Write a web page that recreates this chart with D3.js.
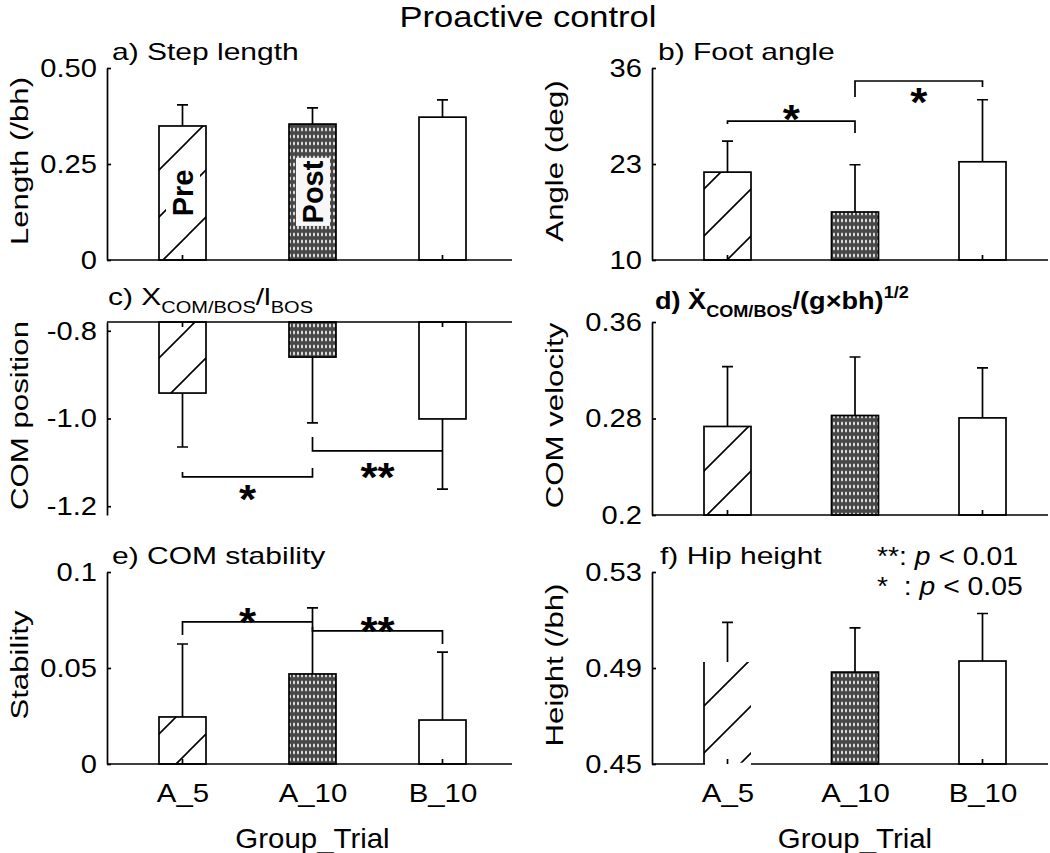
<!DOCTYPE html>
<html><head><meta charset="utf-8">
<script src="https://cdn.jsdelivr.net/npm/d3@7"></script>
<style>
body{margin:0;background:#fff}
text{font-family:"Liberation Sans",Arial,Helvetica,sans-serif;fill:#000;white-space:pre}
</style>
</head><body>
<svg id="c" width="1050" height="853"></svg>
<script>
// ---------------- data ----------------
const categories = ["A_5", "A_10", "B_10"];
const barLabels = ["Pre", "Post", ""];

const stepLength   = [0.349, 0.354, 0.372];
const stepLengthSD = [0.055, 0.042, 0.045];
const footAngle    = [21.9, 16.5, 23.3];
const footAngleSD  = [4.2, 6.4, 8.4];
const comPosition   = [-0.942, -0.860, -1.001];
const comPositionSD = [0.123, 0.150, 0.160];
const comVelocity   = [0.2734, 0.2825, 0.2805];
const comVelocitySD = [0.0496, 0.0485, 0.0415];
const comStability   = [0.0245, 0.0469, 0.0229];
const comStabilitySD = [0.0380, 0.0344, 0.0354];
const hipHeight   = [0.4925, 0.4883, 0.4929];
const hipHeightSD = [0.0165, 0.0184, 0.0198];

const ticksA = [0, 0.25, 0.5],   tickLabelsA = ["0", "0.25", "0.50"];
const ticksB = [10, 23, 36],     tickLabelsB = ["10", "23", "36"];
const ticksC = [-1.2, -1.0, -0.8], tickLabelsC = ["-1.2", "-1.0", "-0.8"];
const ticksD = [0.2, 0.28, 0.36], tickLabelsD = ["0.2", "0.28", "0.36"];
const ticksE = [0, 0.05, 0.1],   tickLabelsE = ["0", "0.05", "0.1"];
const ticksF = [0.45, 0.49, 0.53], tickLabelsF = ["0.45", "0.49", "0.53"];

// significance brackets: from/to category index, bracket level, leg ends, label level (data units)
const bracketsB = [
  {a: 0, b: 1, y: 28.8, ya: 28.4, yb: 27.2, label: "*", ly: 30.3},
  {a: 1, b: 2, y: 34.24, ya: 32.07, yb: 33.43, label: "*", ly: 32.55}
];
const bracketsC = [
  {a: 0, b: 1, y: -1.133, ya: -1.122, yb: -1.113, label: "*", ly: -1.163},
  {a: 1, b: 2, y: -1.074, ya: -1.042, yb: -1.074, label: "**", ly: -1.113}
];
const bracketsE = [
  {a: 0, b: 1, y: 0.0740, ya: 0.0672, yb: 0.0740, label: "*", ly: 0.0786},
  {a: 1, b: 2, y: 0.0693, ya: 0.0714, yb: 0.0625, label: "**", ly: 0.0740}
];

const mainTitle = "Proactive control";
const xAxisTitle = "Group_Trial";
const legendLines = [["**: ", "p", " < 0.01"], ["*  : ", "p", " < 0.05"]];

// ---------------- layout ----------------
const cols = [
  {x0: 107, x1: 512, c0: 182.5, c2: 442.5, lx: 28},
  {x0: 652, x1: 1048, c0: 727.5, c2: 982.5, lx: 563}
];
const rows = [
  {y0: 68, y1: 260},
  {y0: 322, y1: 515},
  {y0: 572, y1: 764}
];

const panels = [
  {col: 0, row: 0, values: stepLength, sd: stepLengthSD, domain: [0, 0.5], ticks: ticksA, tickLabels: tickLabelsA,
   ylabel: "Length (/bh)", title: [["a) Step length", ""]], tx: 5, tb: 60, labels: barLabels},
  {col: 1, row: 0, values: footAngle, sd: footAngleSD, domain: [10, 36], ticks: ticksB, tickLabels: tickLabelsB,
   ylabel: "Angle (deg)", title: [["b) Foot angle", ""]], tx: 6, tb: 60, brackets: bracketsB},
  {col: 0, row: 1, values: comPosition, sd: comPositionSD, domain: [-1.22, -0.78], ticks: ticksC, tickLabels: tickLabelsC,
   ylabel: "COM position", title: [["c) X", ""], ["COM/BOS", "sub"], ["/l", ""], ["BOS", "sub"]], tx: 1, tb: 305,
   baseTop: true, brackets: bracketsC},
  {col: 1, row: 1, values: comVelocity, sd: comVelocitySD, domain: [0.2, 0.36], ticks: ticksD, tickLabels: tickLabelsD,
   ylabel: "COM velocity", title: [["d) \u1E8A", ""], ["COM/BOS", "sub"], ["/(g\u00D7bh)", ""], ["1/2", "sup"]], tx: 3, tb: 309, bold: true},
  {col: 0, row: 2, values: comStability, sd: comStabilitySD, domain: [0, 0.1], ticks: ticksE, tickLabels: tickLabelsE,
   ylabel: "Stability", title: [["e) COM stability", ""]], tx: 5, tb: 564, brackets: bracketsE, xlabels: true},
  {col: 1, row: 2, values: hipHeight, sd: hipHeightSD, domain: [0.45, 0.53], ticks: ticksF, tickLabels: tickLabelsF,
   ylabel: "Height (/bh)", title: [["f) Hip height", ""]], tx: 8, tb: 564, xlabels: true, openFirst: true, legend: true}
];

// ---------------- drawing ----------------
const svg = d3.select("#c");
const defs = svg.append("defs");
const hp = defs.append("pattern").attr("id", "hatch").attr("patternUnits", "userSpaceOnUse")
  .attr("width", 47).attr("height", 47);
hp.append("rect").attr("width", 47).attr("height", 47).attr("fill", "#fff");
hp.append("path").attr("d", "M0,47L47,0M-3,3L3,-3M44,50L50,44").attr("stroke", "#000").attr("stroke-width", 1.6);
const dp = defs.append("pattern").attr("id", "dots").attr("patternUnits", "userSpaceOnUse")
  .attr("width", 4).attr("height", 7);
dp.append("rect").attr("width", 4).attr("height", 7).attr("fill", "#474747");
dp.append("ellipse").attr("cx", 2).attr("cy", 3.5).attr("rx", 1).attr("ry", 2).attr("fill", "#e4e4e4");
const fills = ["url(#hatch)", "url(#dots)", "#fff"];
const BW = 47, CAP = 5.5, SW = 1.7;
const FF = "'Liberation Sans',Arial,sans-serif";

function stext(parent, x, y, sx, size, anchor) {
  return parent.append("text")
    .attr("transform", `translate(${x},${y}) scale(${sx},1)`)
    .attr("font-size", size).attr("text-anchor", anchor || "start");
}

// main title
stext(svg, 528, 27, 1.15, 30, "middle").text(mainTitle);

panels.forEach(p => {
  const C = cols[p.col], R = rows[p.row];
  const x = d3.scalePoint().domain(categories).range([C.c0, C.c2]);
  const y = d3.scaleLinear().domain(p.domain).range([R.y1, R.y0]);
  const g = svg.append("g");
  const base = p.baseTop ? p.domain[1] : p.domain[0];
  const yb = y(base);
  const dir = p.baseTop ? -1 : 1;

  // bars
  const bars = categories.map((c, i) => ({c, i, v: p.values[i], sd: p.sd[i]}));
  g.selectAll("rect.bar").data(bars).join("rect").attr("class", "bar")
    .attr("x", d => x(d.c) - BW / 2)
    .attr("y", d => Math.min(y(d.v), yb))
    .attr("width", BW)
    .attr("height", d => Math.abs(y(d.v) - yb))
    .attr("fill", d => fills[d.i])
    .attr("stroke", d => (p.openFirst && d.i === 0) ? "none" : "#000")
    .attr("stroke-width", SW);

  // x axis line
  g.append("line").attr("x1", C.x0).attr("x2", C.x1).attr("y1", yb).attr("y2", yb)
    .attr("stroke", "#000").attr("stroke-width", SW);

  if (p.openFirst) {
    const d = bars[0];
    g.append("line").attr("x1", x(d.c) - BW / 2 + 1).attr("x2", x(d.c) + BW / 2).attr("y1", yb).attr("y2", yb)
      .attr("stroke", "#fff").attr("stroke-width", SW + 1);
    g.append("line").attr("x1", x(d.c) - BW / 2).attr("x2", x(d.c) - BW / 2).attr("y1", y(d.v)).attr("y2", yb)
      .attr("stroke", "#000").attr("stroke-width", SW);
  }

  // stubs of lower whisker at baseline
  g.selectAll("line.stub").data(bars.filter(d => d.i !== 1)).join("line").attr("class", "stub")
    .attr("x1", d => x(d.c)).attr("x2", d => x(d.c))
    .attr("y1", yb).attr("y2", yb - dir * 5)
    .attr("stroke", "#000").attr("stroke-width", SW);

  // error bars
  g.selectAll("path.err").data(bars).join("path").attr("class", "err")
    .attr("d", d => {
      const xc = x(d.c), y1 = y(d.v), y2 = y(d.v + dir * d.sd);
      return `M${xc},${y1}V${y2}M${xc - CAP},${y2}H${xc + CAP}`;
    })
    .attr("fill", "none").attr("stroke", "#000").attr("stroke-width", SW);

  // y axis
  const ax = d3.axisLeft(y).tickValues(p.ticks).tickFormat((d, i) => p.tickLabels[i])
    .tickSize(-4).tickSizeOuter(0).tickPadding(9);
  const ag = g.append("g").attr("transform", `translate(${C.x0},0)`).call(ax);
  ag.attr("font-size", 26).attr("font-family", FF);
  ag.select(".domain").attr("stroke", "#000").attr("stroke-width", SW);
  ag.selectAll(".tick line").attr("stroke", "#000").attr("stroke-width", SW);
  ag.selectAll(".tick text").attr("fill", "#000").attr("transform", "scale(1.12,1)");

  // y label
  g.append("text")
    .attr("transform", `translate(${C.lx},${(R.y0 + R.y1) / 2 - 3}) rotate(-90) scale(1.3,1)`)
    .attr("text-anchor", "middle").attr("font-size", 24).text(p.ylabel);

  // panel title
  const t = stext(g, C.x0 + p.tx, p.tb, p.bold ? 1.13 : 1.25, 24, "start");
  if (p.bold) t.attr("font-weight", "bold");
  let shift = 0;
  p.title.forEach(([s, k]) => {
    const target = k === "sub" ? 8 : k === "sup" ? -11 : 0;
    const ts = t.append("tspan").attr("dy", target - shift).text(s);
    shift = target;
    if (k) ts.attr("font-size", 16);
  });

  // bar labels (Pre / Post)
  if (p.labels) p.labels.forEach((s, i) => {
    if (!s) return;
    const cx = x(categories[i]), cy = y(p.values[i] / 2);
    const lg = g.append("g").attr("transform", `translate(${cx + 10.5},${cy}) rotate(-90)`);
    const tx = lg.append("text").attr("text-anchor", "middle").attr("font-size", 29)
      .attr("font-weight", "bold").text(s);
    const bb = tx.node().getBBox();
    lg.insert("rect", "text").attr("x", bb.x - 2.5).attr("y", bb.y - 1)
      .attr("width", bb.width + 5).attr("height", bb.height + 2)
      .attr("fill", i === 1 ? "#f7f7f7" : "#fff");
  });

  // brackets
  (p.brackets || []).forEach(b => {
    const xa = x(categories[b.a]), xb = x(categories[b.b]);
    g.append("path").attr("d", `M${xa},${y(b.ya)}V${y(b.y)}H${xb}V${y(b.yb)}`)
      .attr("fill", "none").attr("stroke", "#000").attr("stroke-width", SW);
    stext(g, (xa + xb) / 2, y(b.ly) + 23, 1.1, 40, "middle").attr("font-weight", "bold").text(b.label);
  });

  // x labels
  if (p.xlabels) {
    const xa = d3.axisBottom(x).tickSize(0).tickPadding(20);
    const xg = g.append("g").attr("transform", `translate(0,${R.y1})`).call(xa);
    xg.attr("font-size", 26).attr("font-family", FF);
    xg.select(".domain").remove();
    xg.selectAll(".tick text").attr("fill", "#000").attr("transform", "scale(1.13,1)");
    stext(g, x(categories[1]), 848, 1.09, 27, "middle").text(xAxisTitle);
  }

  // legend
  if (p.legend) {
    legendLines.forEach((parts, li) => {
      const lt = stext(g, 877, 565 + li * 30, 1.09, 26, "start");
      parts.forEach((s, k) => {
        const ts = lt.append("tspan").text(s);
        if (k === 1) ts.attr("font-style", "italic");
      });
    });
  }
});
</script>
</body></html>
